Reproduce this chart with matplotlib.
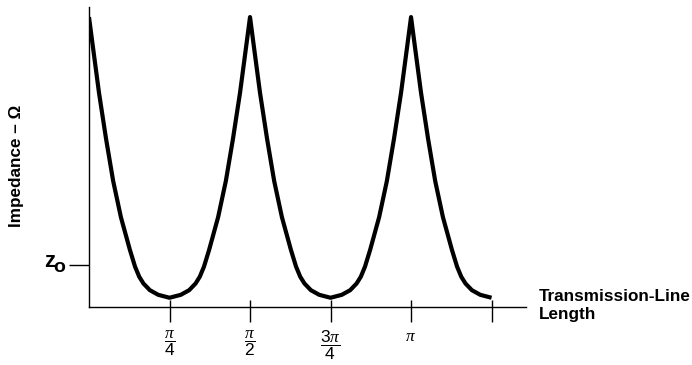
import matplotlib
matplotlib.use('Agg')
import matplotlib.pyplot as plt

plt.rcParams['font.family'] = ['Liberation Sans', 'DejaVu Sans']
plt.rcParams['mathtext.fontset'] = 'custom'
plt.rcParams['mathtext.rm'] = 'Liberation Sans'
plt.rcParams['mathtext.it'] = 'Liberation Serif:italic'

# comprimento da linha em unidades de pi, impedancia em unidades de Z0
comprimento = [0.000, 0.012, 0.031, 0.053, 0.075, 0.099, 0.127, 0.143, 0.156, 0.169, 0.189, 0.215, 0.250,
               0.285, 0.311, 0.331, 0.344, 0.357, 0.373, 0.401, 0.425, 0.447, 0.469, 0.488, 0.500,
               0.512, 0.531, 0.553, 0.575, 0.599, 0.627, 0.643, 0.656, 0.669, 0.689, 0.715, 0.750,
               0.785, 0.811, 0.831, 0.844, 0.857, 0.873, 0.901, 0.925, 0.947, 0.969, 0.988, 1.000,
               1.012, 1.031, 1.053, 1.075, 1.099, 1.127, 1.143, 1.156, 1.169, 1.189, 1.215, 1.250]
impedancia = [6.90, 6.20, 5.10, 4.00, 3.00, 2.14, 1.36, 0.96, 0.72, 0.56, 0.40, 0.29, 0.22,
              0.29, 0.40, 0.56, 0.72, 0.96, 1.36, 2.14, 3.00, 4.00, 5.10, 6.20, 6.90,
              6.20, 5.10, 4.00, 3.00, 2.14, 1.36, 0.96, 0.72, 0.56, 0.40, 0.29, 0.22,
              0.29, 0.40, 0.56, 0.72, 0.96, 1.36, 2.14, 3.00, 4.00, 5.10, 6.20, 6.90,
              6.20, 5.10, 4.00, 3.00, 2.14, 1.36, 0.96, 0.72, 0.56, 0.40, 0.29, 0.22]

marcas_x = [0.25, 0.5, 0.75, 1.0, 1.25]
rotulos_x = [r'$\dfrac{\pi}{4}$', r'$\dfrac{\pi}{2}$', r'$\dfrac{3\pi}{4}$', r'$\pi$', '']
z0 = 1.0

fig = plt.figure(figsize=(6.92, 3.65), dpi=100)
ax = fig.add_axes([89/692, 58/365, 437/692, 300/365])

ax.plot(comprimento, impedancia, color='black', lw=3, solid_joinstyle='round', solid_capstyle='butt')

ax.set_xlim(0, 1.357)
ax.set_ylim(0, 7.14)
for lado in ['top', 'right']:
    ax.spines[lado].set_visible(False)
for lado in ['left', 'bottom']:
    ax.spines[lado].set_linewidth(1.0)

ax.set_xticks(marcas_x)
ax.set_xticklabels(rotulos_x, fontsize=12.5)
ax.set_xticks(marcas_x, minor=True)
ax.xaxis.remove_overlapping_locs = False
ax.tick_params(axis='x', which='major', direction='out', length=10.8, width=1, pad=5)
ax.tick_params(axis='x', which='minor', direction='in', length=5, width=1)

ax.set_yticks([z0])
ax.set_yticklabels([''])
ax.tick_params(axis='y', direction='out', length=14.4, width=1)
ax.annotate('z', xy=(0, z0), xycoords=('axes fraction', 'data'), xytext=(-24.5, -1.4),
            textcoords='offset points', ha='right', va='baseline', fontsize=16, fontweight='bold')
ax.annotate('o', xy=(0, z0), xycoords=('axes fraction', 'data'), xytext=(-21.2, -5),
            textcoords='offset points', ha='center', va='baseline', fontsize=14, fontweight='bold')

fig.text(17/692, 1 - 166/365, 'Impedance – Ω', rotation=90, ha='center', va='center',
         fontsize=12.3, fontweight='bold')
fig.text(539/692, 1 - 289/365, 'Transmission-Line\nLength', ha='left', va='top',
         fontsize=12.3, fontweight='bold', linespacing=1.25)

fig.savefig('out.png', dpi=100)
